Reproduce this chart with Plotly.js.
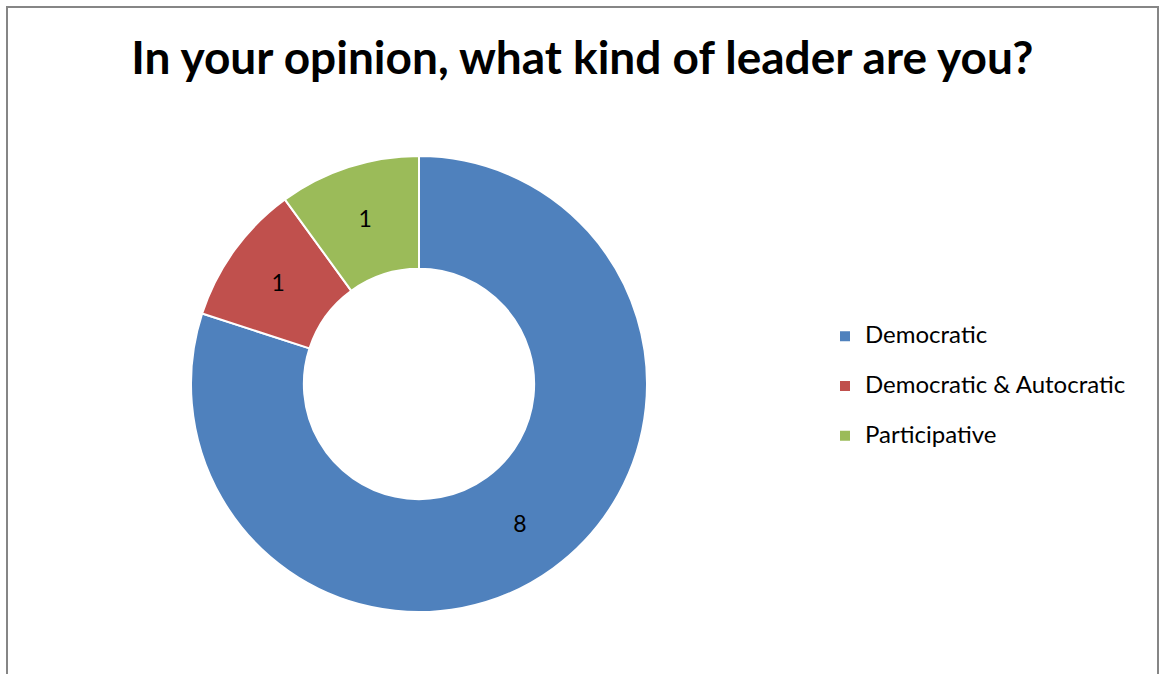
<!DOCTYPE html>
<html>
<head>
<meta charset="utf-8">
<script src="https://cdn.plot.ly/plotly-3.0.1.min.js"></script>
<style>html,body{margin:0;padding:0;background:#fff;}#chart{width:1160px;height:674px;}</style>
</head>
<body>
<div id="chart"></div>
<script>
const categories = ["Democratic", "Democratic & Autocratic", "Participative"];
const counts = [8, 1, 1];
const colors = ["#4F81BD", "#C0504D", "#9BBB59"];
const chartTitle = "In your opinion, what kind of leader are you?";

const W = 1160, H = 674;
const cx = 419, cy = 384, R = 228;

const trace = {
  type: "pie",
  labels: categories.map(c => "<span style='font-size:24px'>" + c + "</span><br> "),
  values: counts,
  sort: false,
  direction: "clockwise",
  rotation: 0,
  hole: 0.505,
  marker: {colors: colors, line: {color: "#ffffff", width: 2}},
  textinfo: "value",
  textposition: "inside",
  insidetextorientation: "horizontal",
  textfont: {family: "Lato, Carlito, sans-serif", size: 23, color: "#000000"},
  hoverinfo: "value",
  domain: {x: [(cx - R) / W, (cx + R) / W], y: [(H - cy - R) / H, (H - cy + R) / H]}
};

const layout = {
  width: W, height: H,
  margin: {l: 0, r: 0, t: 0, b: 0},
  paper_bgcolor: "#ffffff",
  title: {
    text: "<b>" + chartTitle + "</b>",
    font: {family: "Lato, Carlito, sans-serif", size: 46, color: "#000000"},
    x: 0.502, xanchor: "center", y: 1 - 58 / H, yanchor: "middle", yref: "paper"
  },
  showlegend: true,
  legend: {
    x: 825 / W, xanchor: "left",
    y: 1 - 318 / H, yanchor: "top",
    valign: "top",
    font: {family: "Lato, Carlito, sans-serif", size: 18, color: "#000000"},
    bgcolor: "rgba(0,0,0,0)"
  },
  shapes: [{
    type: "rect", xref: "paper", yref: "paper",
    x0: 7 / W, x1: 1158 / W, y0: -0.05, y1: 1 - 7 / H,
    line: {color: "#868686", width: 2}
  }]
};

Plotly.newPlot("chart", [trace], layout, {displayModeBar: false, staticPlot: true});
</script>
</body>
</html>
